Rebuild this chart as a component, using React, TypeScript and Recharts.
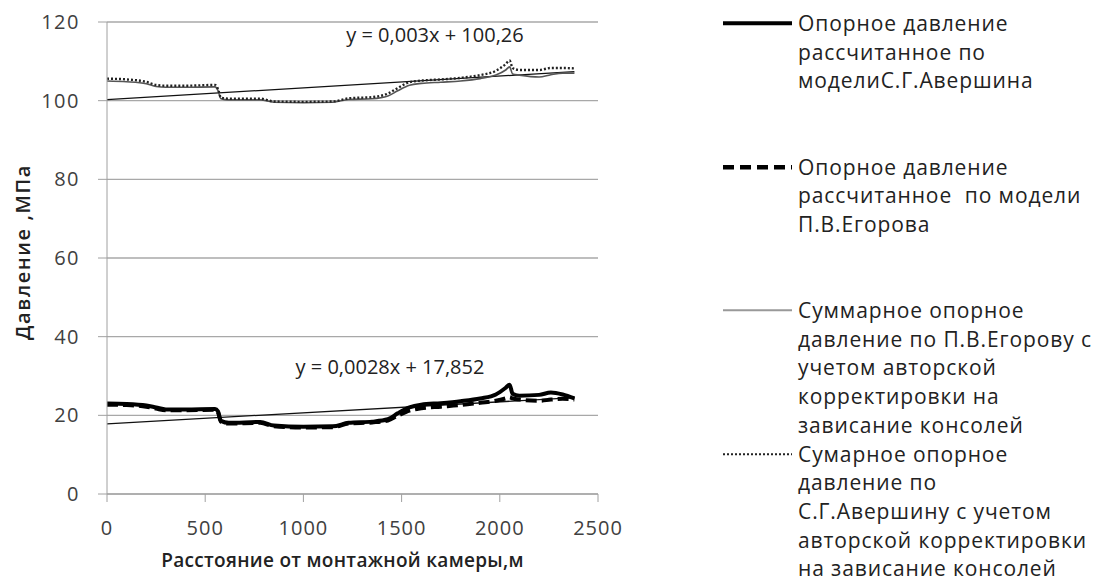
import React from 'react';
import {
  LineChart,
  Line,
  XAxis,
  YAxis,
  CartesianGrid,
  Legend,
  ReferenceDot,
} from 'recharts';

// distance from the installation chamber, m
const distance = [
  0, 100, 200, 250, 300, 400, 550, 565, 580, 620, 780, 850, 1000, 1150, 1230, 1350,
  1430, 1480, 1540, 1600, 1700, 1800, 1900, 1980, 2030, 2050, 2065, 2100, 2200, 2260, 2320, 2380,
];

// support pressure, MPa
const averModel = [
  23.0, 22.9, 22.5, 22.0, 21.5, 21.5, 21.6, 21.0, 18.6, 18.1, 18.3, 17.4, 17.1, 17.2, 18.1, 18.4,
  19.0, 20.5, 22.0, 22.7, 23.1, 23.6, 24.3, 25.3, 27.0, 27.8, 25.5, 25.0, 25.2, 25.8, 25.3, 24.3,
];
const egorModel = [
  22.7, 22.6, 22.2, 21.7, 21.3, 21.3, 21.4, 20.8, 18.4, 17.9, 18.1, 17.2, 16.9, 17.0, 17.9, 18.2,
  18.7, 19.9, 21.2, 21.8, 22.2, 22.6, 23.2, 23.7, 24.3, 24.6, 24.3, 24.0, 23.7, 24.0, 24.2, 24.0,
];
const egorTotal = [
  105.0, 104.8, 104.3, 103.6, 103.4, 103.4, 103.5, 102.6, 100.5, 100.2, 100.2, 99.6, 99.5, 99.6, 100.3, 100.5,
  101.2, 102.5, 103.9, 104.4, 104.7, 105.0, 105.6, 106.5, 107.8, 108.6, 106.8, 106.5, 106.0, 106.6, 107.0, 107.0,
];
const averTotal = [
  105.6, 105.4, 104.8, 104.0, 103.8, 103.8, 104.0, 103.0, 100.8, 100.5, 100.5, 99.8, 99.7, 99.8, 100.6, 100.9,
  101.8, 103.2, 104.7, 105.1, 105.4, 105.8, 106.5, 107.6, 109.3, 110.2, 108.3, 107.8, 107.8, 108.3, 108.3, 108.2,
];

// linear trend lines (end points)
const trendX = [0, 2380];
const upperTrend = [100.26, 107.4];
const lowerTrend = [17.85, 24.5];

const xTicks = [0, 500, 1000, 1500, 2000, 2500];
const yTicks = [0, 20, 40, 60, 80, 100, 120];

const legendItems = [
  {
    lines: ['Опорное давление', 'рассчитанное по', 'моделиС.Г.Авершина'],
    color: '#000', width: 4, dash: undefined as string | undefined,
  },
  {
    lines: ['Опорное давление', 'рассчитанное  по модели', 'П.В.Егорова'],
    color: '#000', width: 4.5, dash: '11 6',
  },
  {
    lines: ['Суммарное опорное', 'давление по П.В.Егорову с', 'учетом авторской', 'корректировки на', 'зависание консолей'],
    color: '#999', width: 2, dash: undefined,
  },
  {
    lines: ['Сумарное опорное', 'давление по', 'С.Г.Авершину с учетом', 'авторской корректировки', 'на зависание консолей'],
    color: '#222', width: 2, dash: '2 2',
  },
];

const mainData = distance.map((x, i) => ({
  x,
  aver: averModel[i],
  egor: egorModel[i],
  egorTotal: egorTotal[i],
  averTotal: averTotal[i],
}));

const trendData = trendX.map((x, i) => ({ x, up: upperTrend[i], low: lowerTrend[i] }));

const FONT = '"Open Sans", sans-serif';
const LINE_H = 28.7;

const renderLegend = () => (
  <div style={{ fontFamily: FONT, fontSize: 21, letterSpacing: 0.9, color: '#222' }}>
    {legendItems.map((item, i) => (
      <div key={i} style={{ display: 'flex', height: LINE_H * 5, alignItems: 'flex-start' }}>
        <svg width={75} height={LINE_H} style={{ flex: 'none' }}>
          <line
            x1={0}
            x2={69}
            y1={LINE_H / 2}
            y2={LINE_H / 2}
            stroke={item.color}
            strokeWidth={item.width}
            strokeDasharray={item.dash}
          />
        </svg>
        <div style={{ lineHeight: `${LINE_H}px`, whiteSpace: 'pre' }}>
          {item.lines.map((l, j) => (
            <div key={j}>{l}</div>
          ))}
        </div>
      </div>
    ))}
  </div>
);

const YTitle = (props: any) => {
  const vb = props.viewBox;
  const x = vb.x - 15;
  const y = vb.y + vb.height / 2 - 6;
  return (
    <text
      x={x}
      y={y}
      transform={`rotate(-90 ${x} ${y})`}
      textAnchor="middle"
      dominantBaseline="central"
      fontSize={20}
      fontWeight={600}
      letterSpacing={1.6}
      fill="#222"
    >
      Давление ,МПа
    </text>
  );
};

const XTitle = (props: any) => {
  const vb = props.viewBox;
  return (
    <text
      x={vb.x + vb.width / 2 - 10}
      y={560}
      textAnchor="middle"
      dominantBaseline="central"
      fontSize={19}
      fontWeight={600}
      letterSpacing={0.3}
      fill="#222"
    >
      Расстояние от монтажной камеры,м
    </text>
  );
};

export default function App() {
  return (
    <div style={{ position: 'absolute', left: 0, top: 0, width: 1101, height: 583, overflow: 'hidden', background: '#fff', fontFamily: FONT }}>
      <LineChart
        width={1101}
        height={583}
        margin={{ top: 22, right: 503, left: 37, bottom: 59 }}
        style={{ fontFamily: FONT }}
      >
        <CartesianGrid horizontal vertical={false} stroke="#a8a8a8" strokeWidth={1.3} />
        <XAxis
          type="number"
          dataKey="x"
          domain={[0, 2500]}
          ticks={xTicks}
          interval={0}
          allowDataOverflow
          height={30}
          stroke="#a0a0a0"
          tickSize={8}
          tickMargin={19}
          tick={{ fill: '#404040', fontSize: 20, letterSpacing: 1 }}
          label={<XTitle />}
        />
        <YAxis
          type="number"
          domain={[0, 120]}
          ticks={yTicks}
          interval={0}
          width={70}
          stroke="#a0a0a0"
          tickSize={9}
          tickMargin={18}
          tick={{ fill: '#404040', fontSize: 20, letterSpacing: 1.5 }}
          label={<YTitle />}
        />
        <Line data={trendData} dataKey="up" type="linear" stroke="#111" strokeWidth={1.3} dot={false} isAnimationActive={false} legendType="none" />
        <Line data={trendData} dataKey="low" type="linear" stroke="#111" strokeWidth={1.3} dot={false} isAnimationActive={false} legendType="none" />
        <Line data={mainData} dataKey="egorTotal" type="monotone" stroke="#555" strokeWidth={1.6} dot={false} isAnimationActive={false} />
        <Line data={mainData} dataKey="averTotal" type="monotone" stroke="#222" strokeWidth={2.4} strokeDasharray="2 2" dot={false} isAnimationActive={false} />
        <Line data={mainData} dataKey="egor" type="monotone" stroke="#000" strokeWidth={4} strokeDasharray="11 5" dot={false} isAnimationActive={false} />
        <Line data={mainData} dataKey="aver" type="monotone" stroke="#000" strokeWidth={4} dot={false} isAnimationActive={false} />
        <ReferenceDot
          x={1670}
          y={116.6}
          r={0}
          fill="none"
          stroke="none"
          label={{ value: 'y = 0,003x + 100,26', position: 'center', fontSize: 20, fill: '#222' }}
        />
        <ReferenceDot
          x={1441}
          y={32.3}
          r={0}
          fill="none"
          stroke="none"
          label={{ value: 'y = 0,0028x + 17,852', position: 'center', fontSize: 20, fill: '#222' }}
        />
        <Legend
          content={renderLegend}
          layout="vertical"
          align="center"
          verticalAlign="middle"
          wrapperStyle={{ position: 'absolute', left: 723, top: 9, width: 380 }}
        />
      </LineChart>
    </div>
  );
}
